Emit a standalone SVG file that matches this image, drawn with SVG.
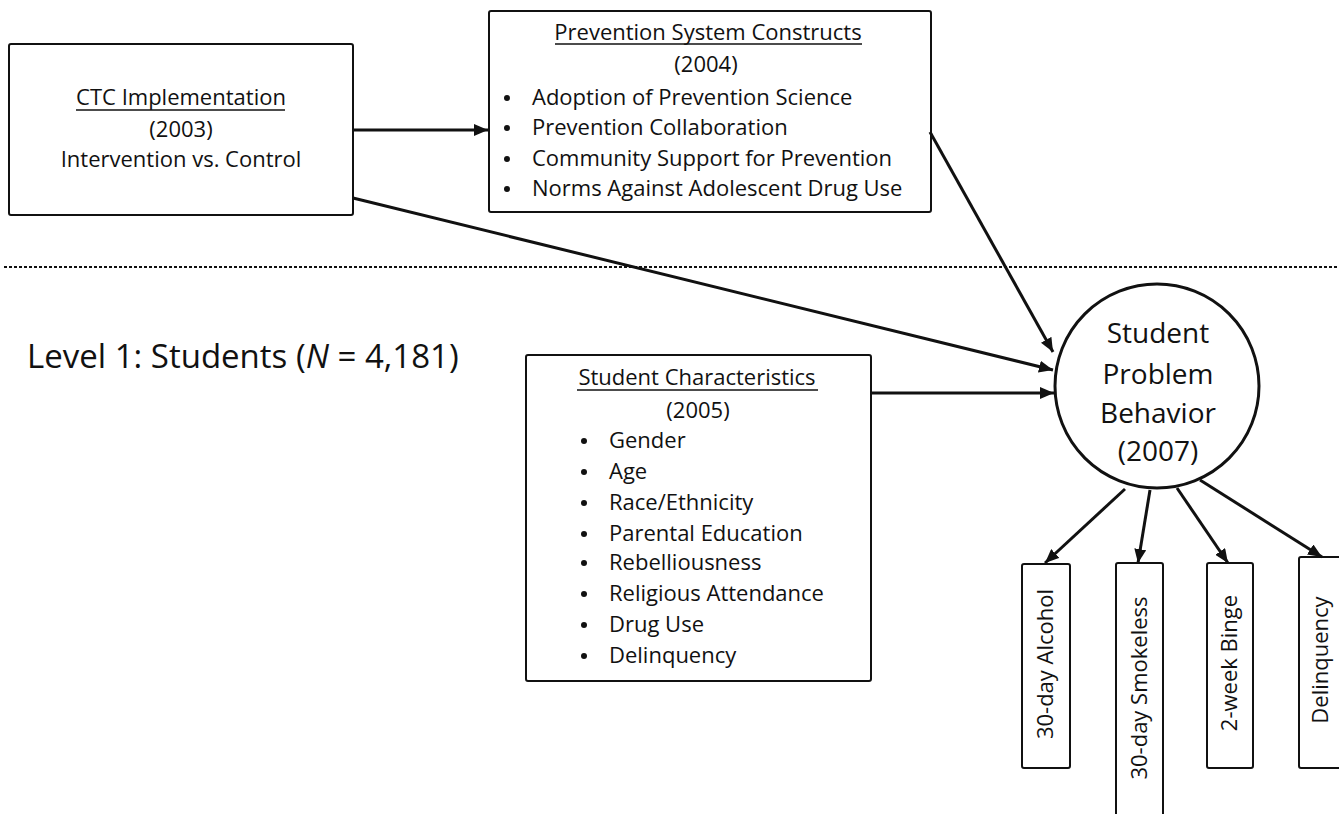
<svg xmlns="http://www.w3.org/2000/svg" width="1339" height="814" viewBox="0 0 1339 814">
<style>
text{font-family:"Open Sans","Lato","Liberation Sans",sans-serif;fill:#111;}
.box{fill:#fff;stroke:#111;stroke-width:2;}
.t{font-size:22px;}
.o{font-size:22px;}
.m{text-anchor:middle;}
.ul{stroke:#111;stroke-width:1.5;}
.conn{stroke:#111;stroke-width:3;fill:none;}
.big{font-size:28px;}
.b{fill:#111;}
</style>
<defs>
<marker id="ah" markerUnits="userSpaceOnUse" markerWidth="14" markerHeight="12" refX="14" refY="6" orient="auto">
<path d="M0,0 L14,6 L0,12 z" fill="#111"/>
</marker>
</defs>
<line x1="4" y1="267" x2="1339" y2="267" stroke="#111" stroke-width="2" stroke-dasharray="3,2"/>
<g id="ctc">
<rect class="box" x="9" y="44" width="344" height="171" rx="2"/>
<text class="t m" x="181" y="105">CTC Implementation</text>
<line class="ul" x1="76" y1="110" x2="285" y2="110"/>
<text class="t m" x="181" y="137">(2003)</text>
<text class="t m" x="181" y="167">Intervention vs. Control</text>
</g>
<g id="prevention">
<rect class="box" x="489" y="11" width="442" height="201" rx="2"/>
<text class="t m" x="708" y="40">Prevention System Constructs</text>
<line class="ul" x1="555" y1="44" x2="862" y2="44"/>
<text class="t m" x="706" y="72">(2004)</text>
<circle class="b" cx="507" cy="98" r="3"/>
<text class="t" x="532" y="105">Adoption of Prevention Science</text>
<circle class="b" cx="507" cy="128" r="3"/>
<text class="t" x="532" y="135">Prevention Collaboration</text>
<circle class="b" cx="507" cy="159" r="3"/>
<text class="t" x="532" y="166">Community Support for Prevention</text>
<circle class="b" cx="507" cy="189" r="3"/>
<text class="t" x="532" y="196">Norms Against Adolescent Drug Use</text>
</g>
<g id="level1">
<text x="27" y="368" font-size="33">Level 1: Students (<tspan font-style="italic">N</tspan> = 4,181)</text>
</g>
<g id="student-characteristics">
<rect class="box" x="526" y="355" width="345" height="326" rx="2"/>
<text class="t m" x="697" y="385">Student Characteristics</text>
<line class="ul" x1="577" y1="390" x2="818" y2="390"/>
<text class="t m" x="698" y="418">(2005)</text>
<circle class="b" cx="584" cy="441" r="3"/>
<text class="t" x="609" y="448">Gender</text>
<circle class="b" cx="584" cy="472" r="3"/>
<text class="t" x="609" y="479">Age</text>
<circle class="b" cx="584" cy="503" r="3"/>
<text class="t" x="609" y="510">Race/Ethnicity</text>
<circle class="b" cx="584" cy="534" r="3"/>
<text class="t" x="609" y="541">Parental Education</text>
<circle class="b" cx="584" cy="563" r="3"/>
<text class="t" x="609" y="570">Rebelliousness</text>
<circle class="b" cx="584" cy="594" r="3"/>
<text class="t" x="609" y="601">Religious Attendance</text>
<circle class="b" cx="584" cy="625" r="3"/>
<text class="t" x="609" y="632">Drug Use</text>
<circle class="b" cx="584" cy="656" r="3"/>
<text class="t" x="609" y="663">Delinquency</text>
</g>
<g id="problem-behavior">
<circle cx="1157" cy="386" r="102" fill="#fff" stroke="#111" stroke-width="3"/>
<text class="big m" x="1158" y="343">Student</text>
<text class="big m" x="1158" y="384">Problem</text>
<text class="big m" x="1158" y="423">Behavior</text>
<text class="big m" x="1158" y="461">(2007)</text>
</g>
<g id="alcohol">
<rect class="box" x="1022" y="564" width="48" height="204" rx="2"/>
<text class="o m" transform="translate(1053,664) rotate(-90)">30-day Alcohol</text>
</g>
<g id="smokeless">
<rect class="box" x="1116" y="563" width="47" height="260" rx="2"/>
<text class="o m" transform="translate(1147,688) rotate(-90)">30-day Smokeless</text>
</g>
<g id="binge">
<rect class="box" x="1207" y="563" width="46" height="205" rx="2"/>
<text class="o m" transform="translate(1237,663) rotate(-90)">2-week Binge</text>
</g>
<g id="delinquency">
<rect class="box" x="1299" y="557" width="50" height="211" rx="2"/>
<text class="o m" transform="translate(1328,660) rotate(-90)">Delinquency</text>
</g>
<g id="connectors">
<line class="conn" x1="353" y1="130" x2="488" y2="130" marker-end="url(#ah)"/>
<line class="conn" x1="930" y1="132" x2="1053" y2="352" marker-end="url(#ah)"/>
<line class="conn" x1="353" y1="198" x2="1053" y2="370" marker-end="url(#ah)"/>
<line class="conn" x1="871" y1="393" x2="1054" y2="393" marker-end="url(#ah)"/>
<line class="conn" x1="1125" y1="489" x2="1045" y2="563" marker-end="url(#ah)"/>
<line class="conn" x1="1150" y1="490" x2="1138" y2="563" marker-end="url(#ah)"/>
<line class="conn" x1="1177" y1="488" x2="1228" y2="563" marker-end="url(#ah)"/>
<line class="conn" x1="1200" y1="480" x2="1322" y2="557" marker-end="url(#ah)"/>
</g>
</svg>
